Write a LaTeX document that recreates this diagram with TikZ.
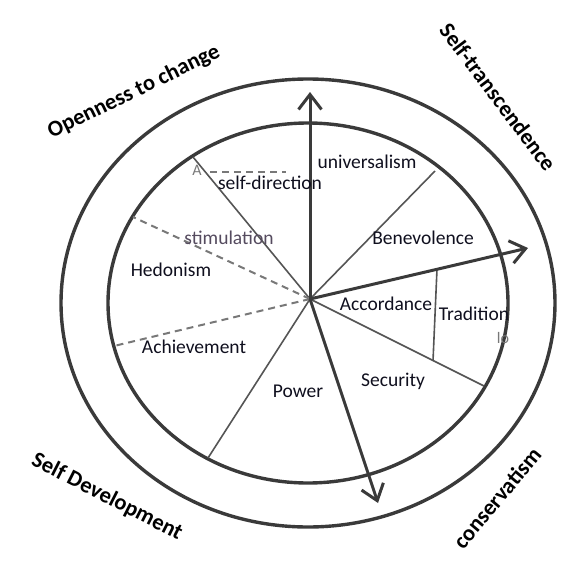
\documentclass[tikz,border=0pt]{standalone}
\usepackage{fontspec}
\setmainfont{Carlito}
\usetikzlibrary{arrows.meta}
\definecolor{ringgray}{RGB}{58,58,58}
\definecolor{linegray}{RGB}{85,85,85}
\definecolor{dashgray}{RGB}{120,120,120}
\definecolor{labelink}{RGB}{15,15,30}
\definecolor{fadedink}{RGB}{85,75,95}
\tikzset{
  ring/.style={draw=ringgray, line width=3.4pt},
  axis/.style={draw=ringgray, line width=3pt,
    -{Straight Barb[length=15pt,width=23pt,line width=3pt]}},
  spoke/.style={draw=linegray, line width=1.6pt},
  divider/.style={draw=dashgray, line width=2pt, dash pattern=on 7pt off 5pt},
  value/.style={font=\fontsize{19.5}{22}\selectfont, text=labelink, inner sep=0pt},
  heading/.style={font=\fontsize{22.5}{26}\selectfont\bfseries, text=black, inner sep=0pt},
  scrap/.style={font=\fontsize{16}{18}\selectfont, text=dashgray, inner sep=0pt}
}

\begin{document}
\begin{tikzpicture}[x=1pt, y=-1pt]
\useasboundingbox (0,0) rectangle (584,570);

% the two rings
\draw[ring] (308,303) ellipse [x radius=247, y radius=224];
\draw[ring] (308,303) ellipse [x radius=200, y radius=180];

% end points
\coordinate (hub)   at (310,299);
\coordinate (north) at (310,92);
\coordinate (east)  at (528,248);
\coordinate (south) at (378,503);
\coordinate (nw)    at (193,157);
\coordinate (ne)    at (435,171);
\coordinate (sw)    at (208,458);
\coordinate (se)    at (484,386);
\coordinate (wnw)   at (133,217);
\coordinate (wsw)   at (114,346);
\coordinate (tradtop) at (437,269);
\coordinate (tradbot) at (433,361);
\coordinate (dashl) at (210,172);
\coordinate (dashr) at (286,172);

% sectors
\draw[spoke] (hub) -- (nw);
\draw[spoke] (hub) -- (ne);
\draw[spoke] (hub) -- (sw);
\draw[spoke] (hub) -- (se);
\draw[spoke] (tradtop) -- (tradbot);
\draw[divider] (hub) -- (wnw);
\draw[divider] (hub) -- (wsw);
\draw[divider] (dashl) -- (dashr);

% main axes
\draw[axis] (hub) -- (north);
\draw[axis] (hub) -- (east);
\draw[axis] (hub) -- (south);

% values
\node (univ)  [value] at (367,162) {universalism};
\node (sdir)  [value] at (270,183) {self-direction};
\node (stim)  [value, text=fadedink] at (229,238) {stimulation};
\node (hedo)  [value] at (171,270) {Hedonism};
\node (achi)  [value] at (194,347) {Achievement};
\node (powr)  [value] at (298,391) {Power};
\node (bene)  [value] at (423,238) {Benevolence};
\node (acco)  [value] at (386,304) {Accordance};
\node (trad)  [value] at (474,314) {Tradition};
\node (secu)  [value] at (393,381) {Security};
\node (scrapa) [scrap] at (197,170) {A};
\node (scrapb) [scrap] at (503,338) {lo};

% higher order groups
\node (open)  [heading, rotate=26]  at (134,92)  {Openness to change};
\node (trans) [heading, rotate=-53] at (498,97)  {Self-transcendence};
\node (devel) [heading, rotate=-27] at (107,497) {Self Development};
\node (cons)  [heading, rotate=50]  at (497,498) {conservatism};
\end{tikzpicture}
\end{document}
